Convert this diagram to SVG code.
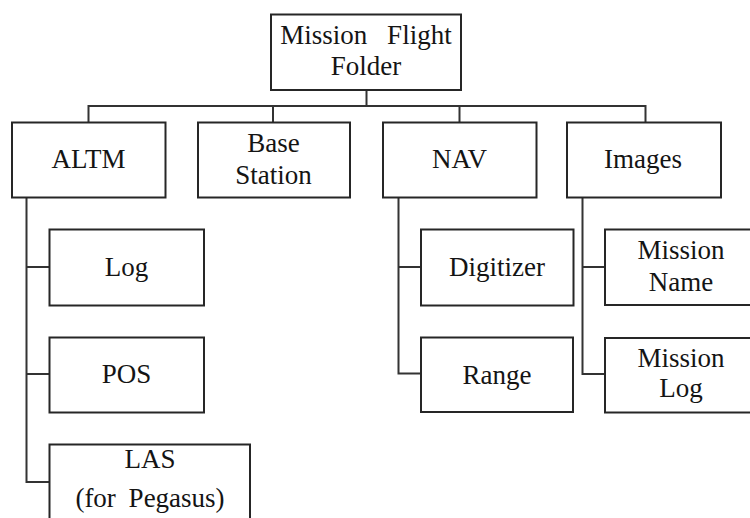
<svg xmlns="http://www.w3.org/2000/svg" width="750" height="518" viewBox="0 0 750 518">
  <style>
    .box { fill: #ffffff; stroke: #262626; stroke-width: 2; }
    .wire { fill: none; stroke: #333333; stroke-width: 2; }
    text { font-family: 'Liberation Serif', 'Times New Roman', serif; font-size: 27px; fill: #141414; text-anchor: middle; }
  </style>
  <rect width="750" height="518" fill="#ffffff"/>

  <!-- connectors: trunk from the root, bus bar, and side rails for the child folders -->
  <g id="connectors">
    <path class="wire" d="M366.5 90 V106"/>
    <path class="wire" d="M88.5 122.5 V106 H645.5 V122.5"/>
    <path class="wire" d="M273 106 V122.5"/>
    <path class="wire" d="M459.5 106 V122.5"/>
    <path class="wire" d="M26.5 197.5 V482 H49.5"/>
    <path class="wire" d="M26.5 267 H49.5"/>
    <path class="wire" d="M26.5 374 H49.5"/>
    <path class="wire" d="M398.5 197.5 V373.5 H421"/>
    <path class="wire" d="M398.5 267 H421"/>
    <path class="wire" d="M582.5 197.5 V374 H605"/>
    <path class="wire" d="M582.5 267 H605"/>
  </g>

  <g id="root">
    <rect class="box" x="271" y="14.5" width="190" height="75.5"/>
    <text x="366" y="43.5" word-spacing="13">Mission Flight</text>
    <text x="366" y="75">Folder</text>
  </g>

  <g id="altm">
    <rect class="box" x="12" y="122.5" width="153.5" height="75"/>
    <text x="88.5" y="167.5">ALTM</text>
  </g>

  <g id="base-station">
    <rect class="box" x="198" y="122.5" width="152" height="75"/>
    <text x="273.5" y="152">Base</text>
    <text x="273.5" y="183.5">Station</text>
  </g>

  <g id="nav">
    <rect class="box" x="383" y="122.5" width="153.5" height="75"/>
    <text x="459.5" y="167.5">NAV</text>
  </g>

  <g id="images">
    <rect class="box" x="567" y="122.5" width="154" height="75"/>
    <text x="643" y="167.5">Images</text>
  </g>

  <g id="log">
    <rect class="box" x="49.5" y="229.5" width="154.5" height="76"/>
    <text x="126.5" y="276">Log</text>
  </g>

  <g id="pos">
    <rect class="box" x="49.5" y="337.5" width="154.5" height="75"/>
    <text x="126.5" y="382.5">POS</text>
  </g>

  <g id="las">
    <rect class="box" x="49.5" y="444.5" width="200.5" height="80"/>
    <text x="150" y="468">LAS</text>
    <text x="150" y="507" word-spacing="6">(for Pegasus)</text>
  </g>

  <g id="digitizer">
    <rect class="box" x="421" y="229.5" width="152.5" height="76"/>
    <text x="497" y="276">Digitizer</text>
  </g>

  <g id="range">
    <rect class="box" x="421" y="337.5" width="152" height="74.5"/>
    <text x="497" y="383.5">Range</text>
  </g>

  <g id="mission-name">
    <rect class="box" x="605" y="229.5" width="152" height="75.5"/>
    <text x="681" y="258.5">Mission</text>
    <text x="681" y="290.5">Name</text>
  </g>

  <g id="mission-log">
    <rect class="box" x="605" y="338" width="152" height="74.5"/>
    <text x="681" y="366.5">Mission</text>
    <text x="681" y="396.5">Log</text>
  </g>
</svg>
